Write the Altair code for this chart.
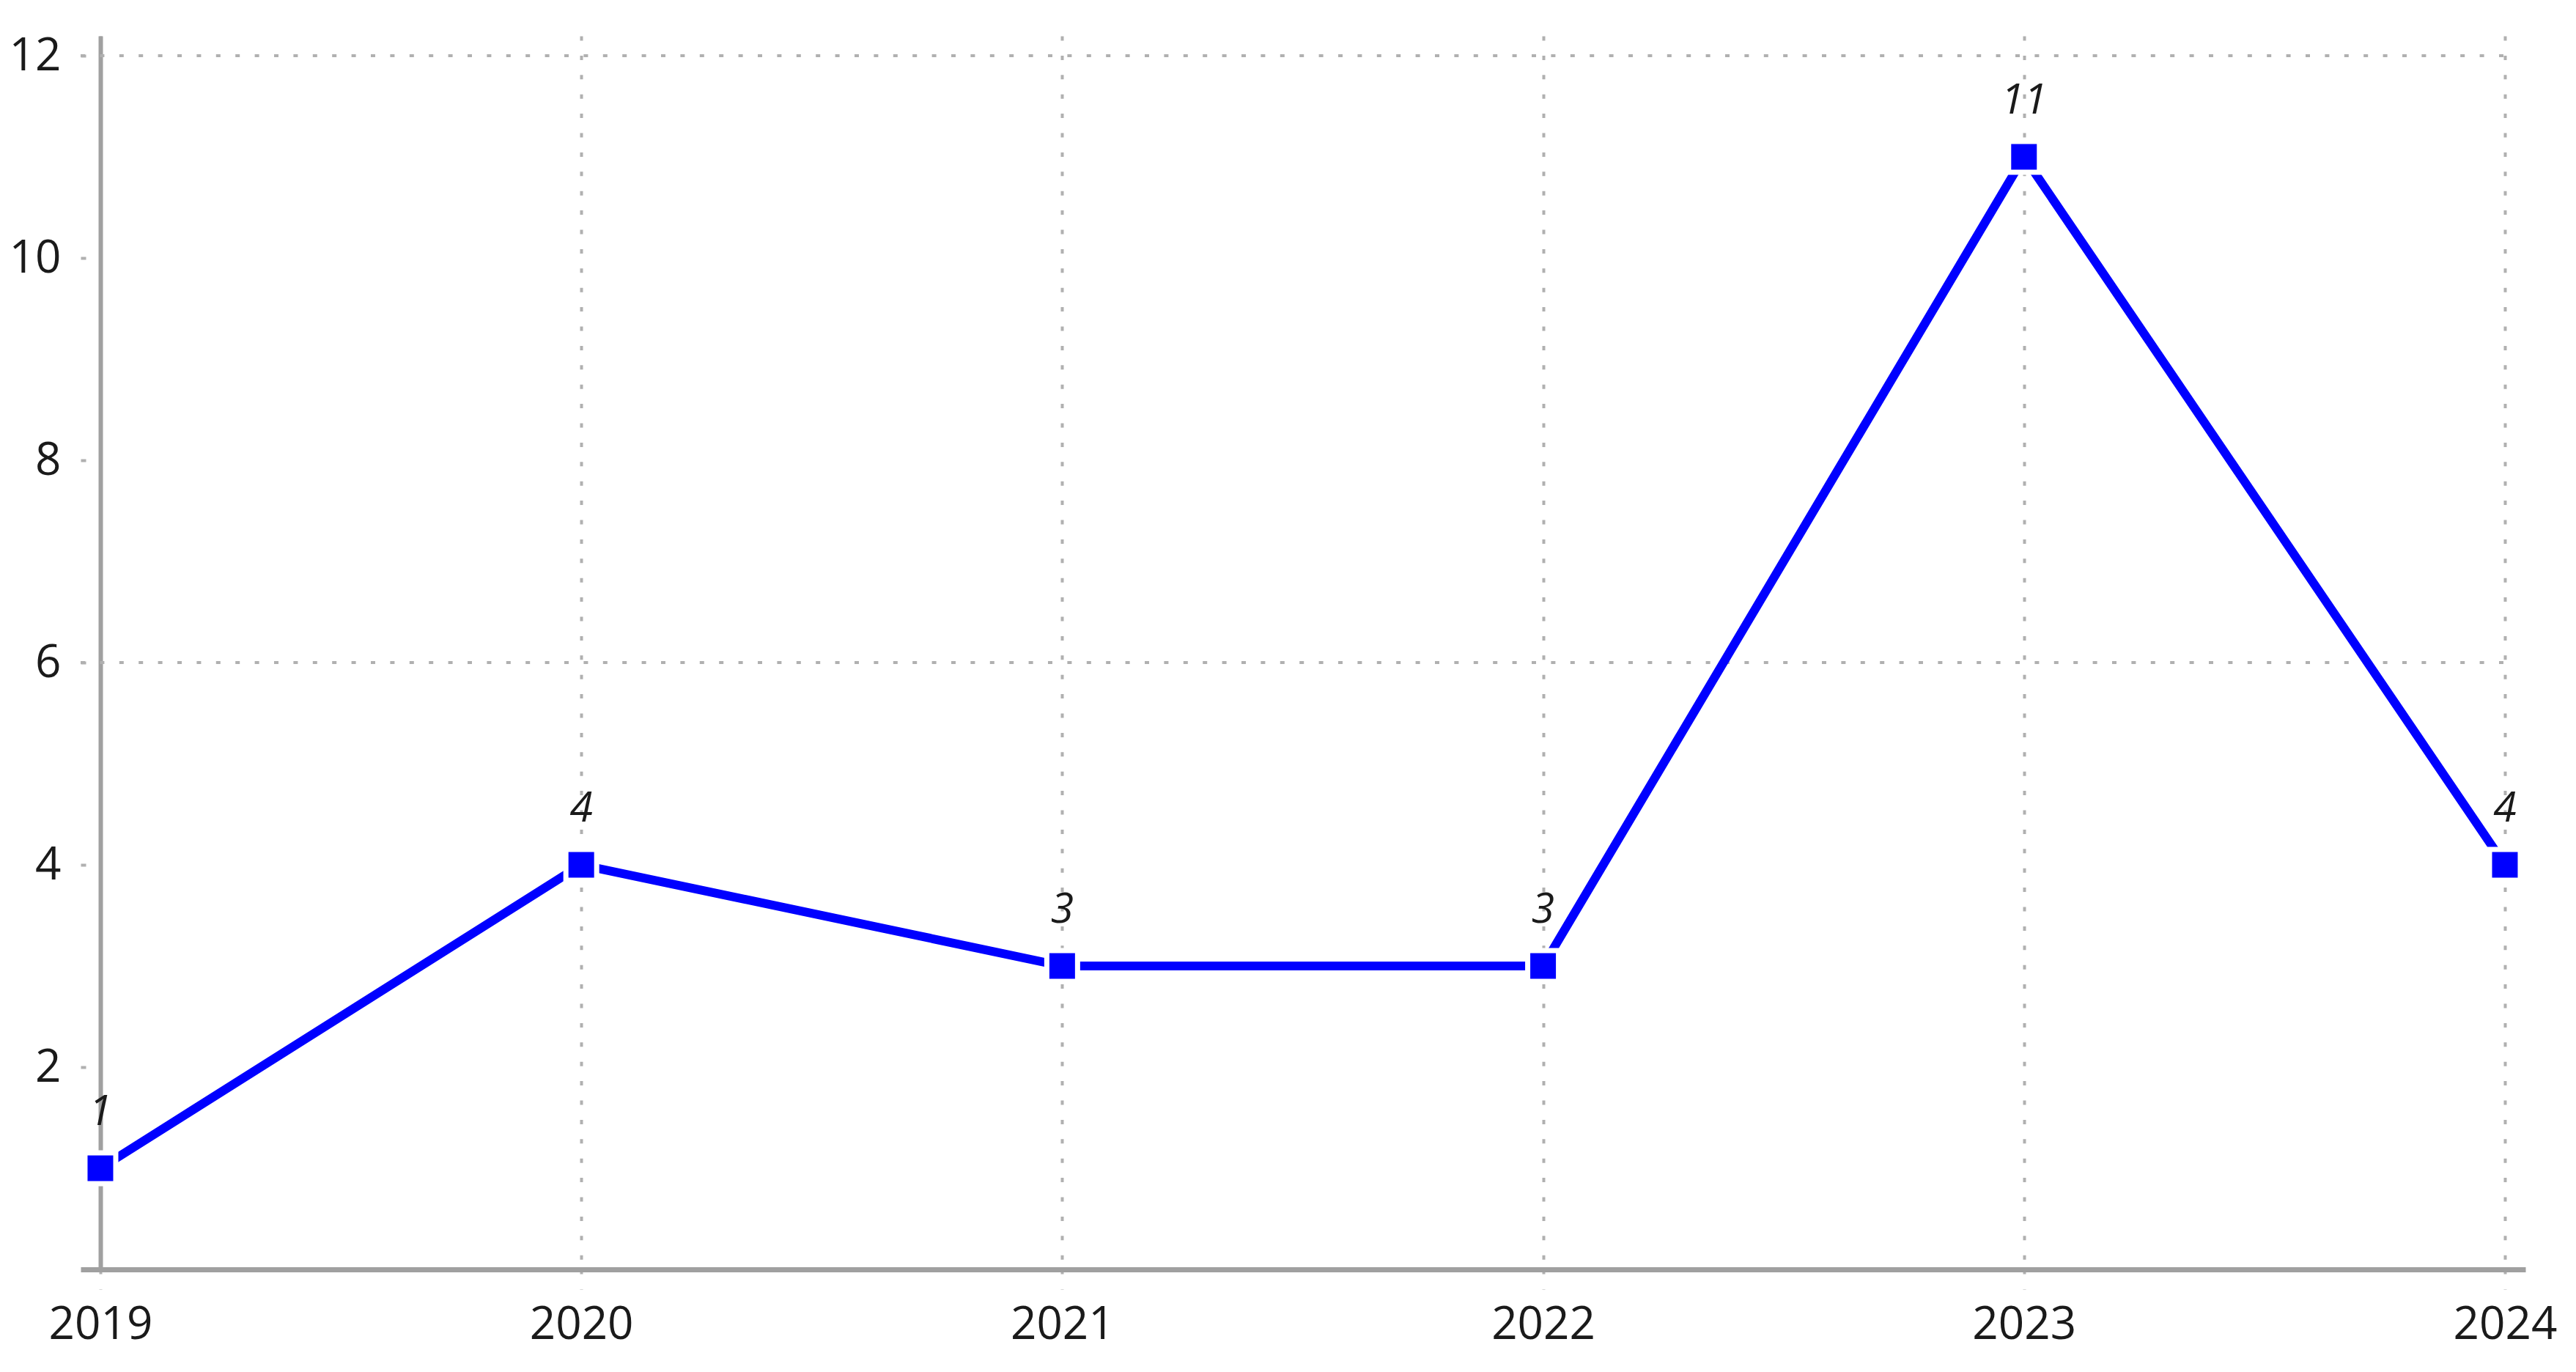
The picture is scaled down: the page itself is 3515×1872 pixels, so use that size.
import altair as alt
import pandas as pd

# ---- data ----
years = [2019, 2020, 2021, 2022, 2023, 2024]
counts = [1, 4, 3, 3, 11, 4]
y_ticks = [2, 4, 6, 8, 10, 12]
grid_rows = [6, 12]

W, H = 3336, 1683
FONT = "Open Sans"
TXT = "#1a1a1a"
GRID = "#b0b0b0"
AXIS = "#a0a0a0"
DASH = [6, 20.4]

df = pd.DataFrame({"year": years, "count": counts})
grid_df = pd.DataFrame({"g": grid_rows})

xscale = alt.Scale(domain=[2018.9589, 2024.0427], nice=False, zero=False)
yscale = alt.Scale(domain=[0, 12.196], nice=False, zero=False)

xaxis = alt.Axis(values=years, format="d", title=None, grid=True,
                 gridColor=GRID, gridWidth=4, gridDash=DASH,
                 domainColor=AXIS, domainWidth=7,
                 tickColor=GRID, tickWidth=4, tickSize=27, tickDash=DASH,
                 labelFont=FONT, labelFontSize=62, labelColor=TXT,
                 labelPadding=18, labelFlush=False, labelOverlap=False)
yaxis = alt.Axis(values=y_ticks, title=None, grid=False, offset=-27,
                 domainColor=AXIS, domainWidth=6,
                 tickColor=GRID, tickWidth=4, tickSize=27, tickDash=[0, 20, 7],
                 labelFont=FONT, labelFontSize=62, labelColor=TXT,
                 labelPadding=27, labelOverlap=False)

X = alt.X("year:Q", scale=xscale, axis=xaxis)
Y = alt.Y("count:Q", scale=yscale, axis=yaxis)

grid = alt.Chart(grid_df).mark_rule(
    color=GRID, strokeWidth=4, strokeDash=DASH
).encode(
    y=alt.Y("g:Q", scale=yscale, axis=yaxis),
    x=alt.value(0), x2=alt.value(W - 25),
)

line = alt.Chart(df).mark_line(color="#0000ff", strokeWidth=12).encode(x=X, y=Y)

pts = alt.Chart(df).mark_square(
    size=1764, color="#0000ff", fill="#0000ff", stroke="white",
    strokeWidth=7, opacity=1, fillOpacity=1, strokeOpacity=1
).encode(x=X, y=Y)

labels = alt.Chart(df).mark_text(
    dy=-59, baseline="alphabetic", align="center", fontStyle="italic",
    font=FONT, fontSize=57, color=TXT
).encode(x=X, y=Y, text="count:Q")

chart = alt.layer(grid, line, pts, labels).properties(
    width=W, height=H,
    autosize=alt.AutoSizeParams(type="none"),
    padding={"left": 102, "top": 41, "right": 60, "bottom": 120},
    background="white",
).configure_view(stroke=None)

chart.save("out.html", embed_options={"renderer": "svg", "actions": False})
